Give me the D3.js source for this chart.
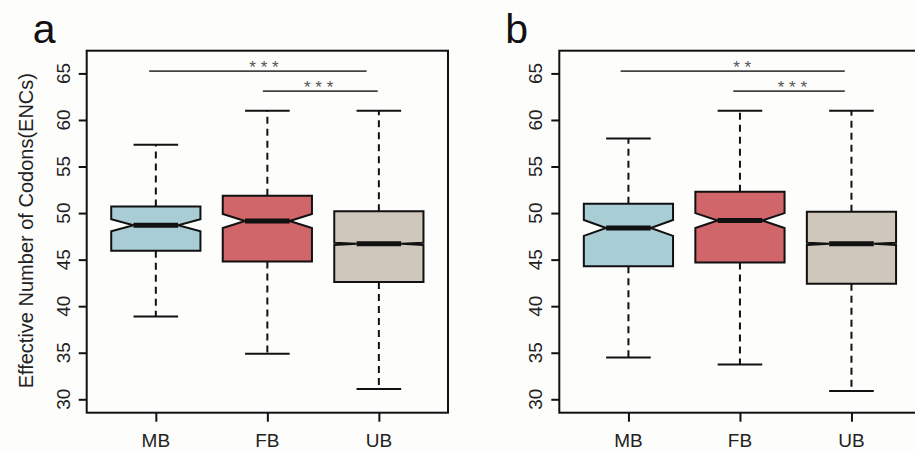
<!DOCTYPE html>
<html>
<head>
<meta charset="utf-8">
<script src="https://cdn.jsdelivr.net/npm/d3@7"></script>
<style>
  body { margin: 0; background: #fdfdfc; }
  svg { display: block; font-family: "Liberation Sans", Arial, sans-serif; }
</style>
</head>
<body>
<div id="app"></div>
<script>
(function (d3) {

  'use strict'

  // categories and colours
  const groups = ['MB', 'FB', 'UB']
  const fills = ['#a9cdd5', '#d0656a', '#d0c7bc']
  const yTicks = [30, 35, 40, 45, 50, 55, 60, 65]

  // panel a: box statistics (ENC)
  const aLow = [38.9, 34.9, 31.1]
  const aQ1 = [45.95, 44.8, 42.6]
  const aMed = [48.7, 49.15, 46.7]
  const aQ3 = [50.7, 51.85, 50.2]
  const aHigh = [57.35, 61.0, 61.0]
  const aNotch = [0.65, 0.75, 0.12]

  // panel b: box statistics (ENC)
  const bLow = [34.5, 33.75, 30.9]
  const bQ1 = [44.3, 44.7, 42.4]
  const bMed = [48.4, 49.2, 46.7]
  const bQ3 = [51.0, 52.3, 50.15]
  const bHigh = [58.0, 61.0, 61.0]
  const bNotch = [0.85, 0.8, 0.12]

  // significance brackets: [x1, x2, y, starX, label]
  const aSig = [[0.94, 2.89, 65.25, 1.97, '* * *'], [1.96, 2.99, 63.1, 2.46, '* * *']]
  const bSig = [[0.93, 2.94, 65.25, 2.02, '* *'], [1.94, 2.94, 63.1, 2.47, '* * *']]

  const w = 915
  const h = 450
  const top = 50.7
  const bottom = 412.7
  const plotW = 361.3

  const svg = d3.select('#app')
    .append('svg')
    .attr('width', w)
    .attr('height', h)

  svg.append('rect')
    .attr('width', w)
    .attr('height', h)
    .attr('fill', '#fdfdfc')

  const y = d3.scaleLinear()
    .domain([28.56, 67.44])
    .range([bottom, top])

  const drawPanel = function (left, letter, low, q1, med, q3, high, notch, sig, title) {
    const x = d3.scaleLinear()
      .domain([0.38, 3.62])
      .range([left, left + plotW])

    const g = svg.append('g')
    const hw = x(0.4) - x(0)
    const nw = hw / 2
    const cw = x(0.2) - x(0)

    // whiskers
    groups.forEach((name, i) => {
      const cx = x(i + 1)
      g.append('line')
        .attr('x1', cx).attr('x2', cx)
        .attr('y1', y(q3[i])).attr('y2', y(high[i]))
        .attr('stroke', '#111').attr('stroke-width', 2)
        .attr('stroke-dasharray', '7,5')
      g.append('line')
        .attr('x1', cx).attr('x2', cx)
        .attr('y1', y(q1[i])).attr('y2', y(low[i]))
        .attr('stroke', '#111').attr('stroke-width', 2)
        .attr('stroke-dasharray', '7,5')
      g.selectAll(null)
        .data([high[i], low[i]])
        .enter()
        .append('line')
        .attr('x1', cx - cw).attr('x2', cx + cw)
        .attr('y1', d => y(d)).attr('y2', d => y(d))
        .attr('stroke', '#111').attr('stroke-width', 2)

      // notched box
      const pts = [
        [cx - hw, y(q3[i])], [cx + hw, y(q3[i])],
        [cx + hw, y(med[i] + notch[i])], [cx + nw, y(med[i])],
        [cx + hw, y(med[i] - notch[i])], [cx + hw, y(q1[i])],
        [cx - hw, y(q1[i])], [cx - hw, y(med[i] - notch[i])],
        [cx - nw, y(med[i])], [cx - hw, y(med[i] + notch[i])]
      ]
      g.append('polygon')
        .attr('points', pts.map(p => p.join(',')).join(' '))
        .attr('fill', fills[i])
        .attr('stroke', '#111')
        .attr('stroke-width', 2)
      g.append('line')
        .attr('x1', cx - nw).attr('x2', cx + nw)
        .attr('y1', y(med[i])).attr('y2', y(med[i]))
        .attr('stroke', '#111').attr('stroke-width', 5)
    })

    // significance
    sig.forEach(s => {
      g.append('line')
        .attr('x1', x(s[0])).attr('x2', x(s[1]))
        .attr('y1', y(s[2])).attr('y2', y(s[2]))
        .attr('stroke', '#444').attr('stroke-width', 1.6)
      g.append('text')
        .attr('x', x(s[3]))
        .attr('y', y(s[2]) + 2)
        .attr('text-anchor', 'middle')
        .attr('font-size', 17)
        .attr('fill', '#555')
        .text(s[4])
    })

    // axes: ticks from d3, labels written out so they can be rotated like R's
    const ya = g.append('g')
      .attr('transform', 'translate(' + left + ',0)')
      .call(d3.axisLeft(y).tickValues(yTicks).tickSize(8).tickSizeOuter(0).tickFormat(''))
    ya.select('.domain').remove()
    ya.selectAll('.tick line').attr('stroke', '#111').attr('stroke-width', 2)

    g.selectAll(null)
      .data(yTicks)
      .enter()
      .append('text')
      .attr('transform', d => 'translate(' + (left - 17) + ',' + y(d) + ') rotate(-90)')
      .attr('text-anchor', 'middle')
      .attr('font-size', 19)
      .attr('fill', '#222')
      .text(d => d)

    const xa = g.append('g')
      .attr('transform', 'translate(0,' + bottom + ')')
      .call(d3.axisBottom(x).tickValues([1, 2, 3]).tickSize(9).tickSizeOuter(0).tickFormat(''))
    xa.select('.domain').remove()
    xa.selectAll('.tick line').attr('stroke', '#111').attr('stroke-width', 2)

    g.selectAll(null)
      .data(groups)
      .enter()
      .append('text')
      .attr('x', (d, i) => x(i + 1))
      .attr('y', bottom + 34)
      .attr('text-anchor', 'middle')
      .attr('font-size', 19)
      .attr('fill', '#222')
      .text(d => d)

    // frame
    g.append('rect')
      .attr('x', left).attr('y', top)
      .attr('width', plotW).attr('height', bottom - top)
      .attr('fill', 'none')
      .attr('stroke', '#111').attr('stroke-width', 2)

    svg.append('text')
      .attr('x', left - 54)
      .attr('y', 43)
      .attr('font-size', 41)
      .attr('fill', '#111')
      .text(letter)

    if (title) {
      svg.append('text')
        .attr('transform', 'translate(' + (left - 54) + ',' + ((top + bottom) / 2 - 1) + ') rotate(-90)')
        .attr('text-anchor', 'middle')
        .attr('font-size', 20)
        .attr('fill', '#222')
        .text(title)
    }
  }

  drawPanel(86.7, 'a', aLow, aQ1, aMed, aQ3, aHigh, aNotch, aSig, 'Effective Number of Codons(ENCs)')
  drawPanel(559.3, 'b', bLow, bQ1, bMed, bQ3, bHigh, bNotch, bSig, null)

}(d3))
</script>
</body>
</html>
